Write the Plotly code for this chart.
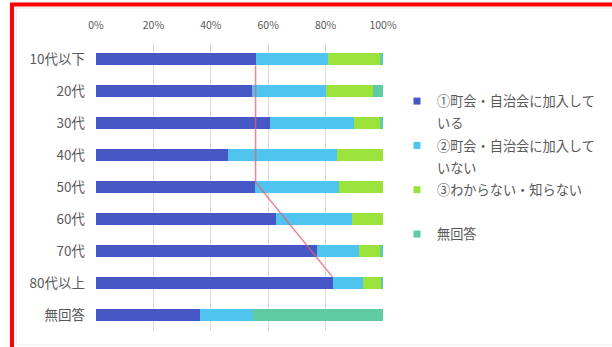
import plotly.graph_objects as go

# Age groups (top to bottom)
age_groups = ["10代以下", "20代", "30代", "40代", "50代", "60代", "70代", "80代以上", "無回答"]

# Share of respondents per answer (%)
joined = [55.6, 54.2, 60.6, 46.1, 55.4, 62.6, 77.0, 82.5, 36.4]
not_joined = [25.1, 25.8, 29.3, 38.0, 29.1, 26.6, 14.6, 10.5, 18.2]
unknown = [18.3, 16.6, 9.1, 15.9, 15.5, 10.8, 7.4, 6.5, 0.0]
no_answer = [1.0, 3.4, 1.0, 0.0, 0.0, 0.0, 1.0, 0.5, 45.4]

series_names = [
    "①町会・自治会に加入して",
    "②町会・自治会に加入して",
    "③わからない・知らない",
    "無回答",
]
# second legend line for each series (wrapped text)
series_name_cont = ["いる", "いない", " ", None]
series_values = [joined, not_joined, unknown, no_answer]
series_colors = ["#4657c6", "#4fc4ef", "#9be33c", "#5fcba3"]

# Trend guide across the "joined" bar ends
trend_x = [55.6, 55.6, 82.3]
trend_y = [0.2, 3.85, 6.8]

tick_vals = [0, 20, 40, 60, 80, 100]
tick_text = ["0%", "20%", "40%", "60%", "80%", "100%"]

positions = list(range(len(age_groups)))

fig = go.Figure()
for name, vals, col in zip(series_names, series_values, series_colors):
    fig.add_trace(go.Bar(
        x=vals, y=positions, orientation="h", name=name,
        marker=dict(color=col, line=dict(width=0)),
        width=0.4, showlegend=False,
    ))

fig.add_trace(go.Scatter(
    x=trend_x, y=trend_y, mode="lines", showlegend=False,
    line=dict(color="rgba(232,92,112,0.75)", width=1.5),
    hoverinfo="skip",
))

# Legend entries: small square keys, wrapped names on their own rows
g = 0
for name, cont, col in zip(series_names, series_name_cont, series_colors):
    fig.add_trace(go.Scatter(
        x=[None], y=[None], mode="markers", name=name,
        marker=dict(symbol="square", size=7, color=col),
        legendgroup=f"g{g}", hoverinfo="skip",
    ))
    g += 1
    if cont is not None:
        fig.add_trace(go.Scatter(
            x=[None], y=[None], mode="markers", name=cont,
            marker=dict(symbol="square", size=7, color="rgba(0,0,0,0)"),
            legendgroup=f"g{g}", hoverinfo="skip",
        ))
        g += 1

W, H = 612, 347
L, R, T, B = 96, 229, 43, 16
pw, ph = W - L - R, H - T - B


def px_x(p):
    return (p - L) / pw


def px_y(p):
    return (H - B - p) / ph


fig.update_layout(
    width=W, height=H,
    margin=dict(l=L, r=R, t=T, b=B, autoexpand=False),
    barmode="stack",
    paper_bgcolor="white", plot_bgcolor="white",
    font=dict(family="Noto Sans CJK JP", color="#595959"),
    xaxis=dict(
        side="top", range=[0, 100], tickvals=tick_vals, ticktext=tick_text,
        showgrid=True, gridcolor="#dcdcdc", gridwidth=1, zeroline=False,
        showline=False, ticks="", tickfont=dict(size=10.5, color="#595959"),
        ticklabelstandoff=11, fixedrange=True,
    ),
    yaxis=dict(
        range=[8.5, -0.5], tickvals=positions, ticktext=age_groups,
        showgrid=False, zeroline=False, showline=False, ticks="",
        tickfont=dict(size=13.5, color="#595959"), ticklabelstandoff=10,
        fixedrange=True,
    ),
    legend=dict(
        x=px_x(397), y=px_y(86), xanchor="left", yanchor="top",
        font=dict(size=13.2, color="#595959"),
        traceorder="grouped", tracegroupgap=2, valign="middle",
        bgcolor="rgba(0,0,0,0)", itemclick=False, itemdoubleclick=False,
    ),
    showlegend=True,
    shapes=[
        # faint inner frame
        dict(type="path", xref="paper", yref="paper",
             path=f"M {px_x(16)} {px_y(345)} L {px_x(16)} {px_y(8)} L {px_x(640)} {px_y(8)}",
             line=dict(color="#e2e2e2", width=1)),
        dict(type="line", xref="paper", yref="paper",
             x0=px_x(16), x1=px_x(640), y0=px_y(345), y1=px_y(345),
             line=dict(color="#ececec", width=1)),
        # red outer frame
        dict(type="path", xref="paper", yref="paper",
             path=f"M {px_x(12)} {px_y(360)} L {px_x(12)} {px_y(4.5)} L {px_x(640)} {px_y(4.5)}",
             line=dict(color="#ff0000", width=4)),
    ],
)

fig.write_html("out.html")
